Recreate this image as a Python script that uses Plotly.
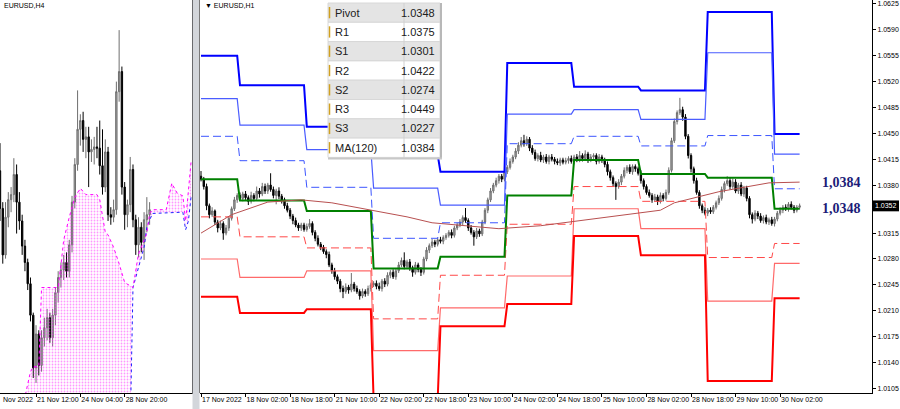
import plotly.graph_objects as go

W, H = 900, 409
PIP = 0.0001

# ---------------- H1 (right panel) data ----------------
h1_first_open = 1.0392
h1_close = [
    1.0388, 1.0378, 1.0352, 1.0340, 1.0345, 1.0330, 1.0322, 1.0328, 1.0315, 1.0322, 1.0335, 1.0348,
    1.0360, 1.0366, 1.0362, 1.0368, 1.0363, 1.0358, 1.0366, 1.0362, 1.0372, 1.0368, 1.0378, 1.0372,
    1.0380, 1.0374, 1.0366, 1.0372, 1.0365, 1.0360, 1.0352, 1.0346, 1.0338, 1.0332, 1.0326, 1.0322,
    1.0326, 1.0320, 1.0324, 1.0328, 1.0316, 1.0308, 1.0300, 1.0296, 1.0290, 1.0286, 1.0272, 1.0264,
    1.0256, 1.0250, 1.0240, 1.0236, 1.0242, 1.0238, 1.0246, 1.0240, 1.0236, 1.0230, 1.0236, 1.0233,
    1.0240, 1.0245, 1.0247, 1.0243, 1.0240, 1.0250, 1.0246, 1.0258, 1.0262, 1.0256, 1.0264, 1.0272,
    1.0278, 1.0270, 1.0276, 1.0268, 1.0262, 1.0272, 1.0266, 1.0262, 1.0280, 1.0292, 1.0298, 1.0303,
    1.0300, 1.0306, 1.0304, 1.0309, 1.0312, 1.0316, 1.0312, 1.0322, 1.0326, 1.0330, 1.0336, 1.0332,
    1.0322, 1.0316, 1.0310, 1.0318, 1.0314, 1.0330, 1.0346, 1.0360, 1.0372, 1.0380, 1.0386, 1.0392,
    1.0388, 1.0398, 1.0404, 1.0412, 1.0418, 1.0426, 1.0434, 1.0440, 1.0436, 1.0442, 1.0430, 1.0424,
    1.0416, 1.0420, 1.0414, 1.0418, 1.0412, 1.0418, 1.0415, 1.0412, 1.0410, 1.0414, 1.0411, 1.0413,
    1.0416, 1.0412, 1.0418, 1.0414, 1.0420, 1.0416, 1.0422, 1.0414, 1.0418, 1.0420, 1.0412, 1.0418,
    1.0414, 1.0408, 1.0398, 1.0390, 1.0382, 1.0378, 1.0384, 1.0392, 1.0400, 1.0404, 1.0398, 1.0405,
    1.0402, 1.0396, 1.0386, 1.0378, 1.0370, 1.0366, 1.0360, 1.0364, 1.0358, 1.0366, 1.0362, 1.0370,
    1.0400, 1.0440, 1.0466, 1.0478, 1.0482, 1.0472, 1.0446, 1.0420, 1.0402, 1.0386, 1.0370, 1.0352,
    1.0346, 1.0342, 1.0346, 1.0344, 1.0350, 1.0356, 1.0362, 1.0374, 1.0382, 1.0386, 1.0378, 1.0384,
    1.0372, 1.0380, 1.0368, 1.0376, 1.0362, 1.0340, 1.0334, 1.0342, 1.0338, 1.0332, 1.0336, 1.0330,
    1.0333, 1.0328, 1.0334, 1.0342, 1.0346, 1.0350, 1.0348, 1.0354, 1.0350, 1.0346, 1.0350, 1.0352,
]
h1_wick_up = [  # pips above body
    7, 3, 4, 3, 5, 2, 3, 4, 3, 4, 3, 3,   4, 3, 4, 3, 4, 3, 5, 3, 6, 4, 5, 4,
    3, 16, 4, 3, 5, 3, 3, 4, 3, 3, 4, 3,  3, 3, 4, 6, 3, 3, 4, 3, 3, 3, 4, 3,
    4, 3, 3, 4, 5, 3, 15, 3, 4, 3, 4, 3,  4, 3, 3, 4, 5, 3, 4, 4, 3, 4, 3, 4,
    4, 11, 3, 4, 3, 4, 3, 3, 3, 4, 3, 4,  3, 3, 4, 3, 3, 3, 4, 3, 3, 4, 3, 13,
    3, 4, 3, 4, 3, 3, 3, 3, 4, 3, 4, 3,   3, 3, 3, 4, 3, 4, 4, 5, 8, 4, 3, 4,
    4, 3, 5, 3, 4, 3, 4, 3, 4, 3, 3, 4,   3, 4, 3, 4, 6, 3, 5, 3, 4, 3, 3, 4,
    3, 3, 4, 3, 3, 3, 4, 3, 4, 3, 4, 3,   3, 3, 4, 3, 3, 4, 3, 4, 3, 4, 3, 4,
    4, 4, 4, 3, 16, 4, 4, 3, 3, 3, 4, 3,  3, 4, 3, 4, 3, 3, 4, 4, 3, 6, 4, 5,
    4, 3, 4, 3, 3, 3, 3, 4, 3, 4, 3, 4,   3, 4, 3, 3, 4, 3, 4, 3, 4, 3, 3, 3,
]
h1_wick_dn = [  # pips below body
    3, 4, 6, 5, 3, 4, 6, 3, 9, 3, 4, 3,   3, 4, 3, 4, 3, 5, 3, 4, 3, 5, 3, 4,
    4, 3, 4, 12, 4, 5, 4, 3, 4, 5, 3, 4,  4, 3, 3, 3, 4, 4, 3, 4, 3, 5, 3, 4,
    4, 4, 5, 9, 3, 5, 3, 4, 3, 5, 3, 4,   3, 4, 3, 4, 3, 4, 4, 3, 4, 3, 4, 3,
    3, 4, 3, 4, 6, 3, 4, 5, 3, 3, 4, 3,   4, 3, 3, 4, 3, 3, 4, 3, 3, 3, 4, 3,
    4, 3, 12, 3, 4, 3, 3, 4, 3, 3, 3, 4,  4, 3, 3, 3, 3, 3, 4, 3, 4, 3, 4, 3,
    3, 4, 3, 4, 3, 4, 3, 4, 3, 4, 3, 3,   4, 3, 4, 3, 3, 4, 3, 4, 3, 4, 4, 3,
    4, 4, 5, 4, 4, 18, 3, 4, 3, 4, 3, 4,  4, 3, 4, 4, 3, 3, 4, 3, 5, 3, 4, 3,
    3, 3, 3, 4, 3, 5, 4, 4, 5, 4, 3, 4,   4, 3, 4, 3, 3, 3, 3, 3, 4, 3, 4, 3,
    3, 4, 3, 4, 4, 5, 6, 3, 4, 3, 4, 3,   4, 3, 4, 3, 3, 4, 3, 4, 3, 4, 3, 3,
]

# daily pivot levels (one value per trading day)
day_names = ["17 Nov", "18 Nov", "21 Nov", "22 Nov", "23 Nov", "24 Nov", "25 Nov", "28 Nov", "29 Nov", "30 Nov"]
day_first_bar = [0, 14, 38, 62, 86, 110, 134, 158, 182, 206]
lvl_R3 = [1.0555, 1.0515, 1.0459, 1.0421, 1.0398, 1.0545, 1.0513, 1.0508, 1.0614, 1.0449]
lvl_R2 = [1.0497, 1.0461, 1.0428, 1.0376, 1.0353, 1.0476, 1.0482, 1.0469, 1.0559, 1.0422]
lvl_R1 = [1.0446, 1.0413, 1.0377, 1.0308, 1.0329, 1.0436, 1.0446, 1.0433, 1.0447, 1.0375]
lvl_P = [1.0388, 1.0359, 1.0345, 1.0267, 1.0283, 1.0366, 1.0414, 1.0395, 1.0390, 1.0348]
lvl_S1 = [1.0337, 1.0310, 1.0295, 1.0199, 1.0258, 1.0327, 1.0378, 1.0358, 1.0282, 1.0301]
lvl_S2 = [1.0280, 1.0255, 1.0264, 1.0156, 1.0214, 1.0257, 1.0348, 1.0321, 1.0223, 1.0274]
lvl_S3 = [1.0229, 1.0207, 1.0212, 1.0089, 1.0189, 1.0219, 1.0311, 1.0285, 1.0115, 1.0227]

# MA(120) read at a few bars
ma_bar = [0, 11, 24, 36, 47, 61, 74, 83, 95, 107, 122, 134, 158, 165, 170, 178, 186, 204, 215]
ma_val = [1.0315, 1.0340, 1.0357, 1.0360, 1.0356, 1.0346, 1.0337, 1.0329, 1.0325, 1.0321,
          1.0325, 1.0331, 1.0342, 1.0346, 1.0356, 1.0364, 1.0371, 1.0383, 1.0384]

h1_tick_bar = [0, 16, 32, 48, 64, 80, 96, 112, 128, 144, 160, 176, 192, 208]
h1_tick_text = ["17 Nov 2022", "18 Nov 02:00", "18 Nov 18:00", "21 Nov 10:00", "22 Nov 02:00",
                "22 Nov 18:00", "23 Nov 10:00", "24 Nov 02:00", "24 Nov 18:00", "25 Nov 10:00",
                "28 Nov 02:00", "28 Nov 18:00", "29 Nov 10:00", "30 Nov 02:00"]
price_ticks = [1.0105, 1.0140, 1.0175, 1.0210, 1.0245, 1.0280, 1.0315, 1.0380, 1.0415,
               1.0450, 1.0485, 1.0520, 1.0555, 1.0590, 1.0625]
price_tick_text = ["1.0105", "1.0140", "1.0175", "1.0210", "1.0245", "1.0280", "1.0315", "1.0380",
                   "1.0415", "1.0450", "1.0485", "1.0520", "1.0555", "1.0590", "1.0625"]
last_price = 1.0352

table_labels = ["Pivot", "R1", "S1", "R2", "S2", "R3", "S3", "MA(120)"]
table_values = ["1.0348", "1.0375", "1.0301", "1.0422", "1.0274", "1.0449", "1.0227", "1.0384"]
right_labels = [("1,0384", 1.0384), ("1,0348", 1.0348)]

# ---------------- H4 (left panel) data ----------------
h4_open = [1.0385, 1.0355, 1.0318, 1.0348, 1.0362, 1.0366, 1.0382, 1.0360, 1.0345, 1.0325, 1.0312,
           1.0295, 1.0270, 1.0228, 1.0255, 1.0230, 1.0252, 1.0260, 1.0268, 1.0252, 1.0270, 1.0288,
           1.0300, 1.0306, 1.0312, 1.0305, 1.0326, 1.0360, 1.0390, 1.0418, 1.0425, 1.0410, 1.0412,
           1.0400, 1.0402, 1.0404, 1.0403, 1.0389, 1.0372, 1.0400, 1.0350, 1.0348, 1.0354, 1.0448,
           1.0464, 1.0372, 1.0350, 1.0358, 1.0386, 1.0346, 1.0326, 1.0340, 1.0328, 1.0346, 1.0350]
h4_high = [1.0407, 1.0360, 1.0360, 1.0368, 1.0372, 1.0395, 1.0390, 1.0368, 1.0350, 1.0330, 1.0315,
           1.0300, 1.0272, 1.0262, 1.0258, 1.0258, 1.0268, 1.0275, 1.0272, 1.0275, 1.0292, 1.0305,
           1.0312, 1.0318, 1.0320, 1.0330, 1.0365, 1.0395, 1.0449, 1.0430, 1.0432, 1.0420, 1.0420,
           1.0410, 1.0412, 1.0420, 1.0425, 1.0418, 1.0410, 1.0404, 1.0356, 1.0362, 1.0456, 1.0497,
           1.0468, 1.0376, 1.0362, 1.0396, 1.0390, 1.0350, 1.0348, 1.0344, 1.0352, 1.0364, 1.0360]
h4_low = [1.0345, 1.0311, 1.0315, 1.0340, 1.0352, 1.0360, 1.0335, 1.0338, 1.0318, 1.0305, 1.0290,
          1.0265, 1.0220, 1.0216, 1.0222, 1.0225, 1.0245, 1.0250, 1.0248, 1.0245, 1.0262, 1.0280,
          1.0292, 1.0298, 1.0300, 1.0300, 1.0320, 1.0355, 1.0385, 1.0405, 1.0400, 1.0395, 1.0372,
          1.0392, 1.0390, 1.0395, 1.0382, 1.0366, 1.0368, 1.0345, 1.0342, 1.0344, 1.0350, 1.0440,
          1.0366, 1.0338, 1.0340, 1.0352, 1.0340, 1.0318, 1.0316, 1.0320, 1.0314, 1.0336, 1.0342]
h4_close = [1.0355, 1.0318, 1.0348, 1.0362, 1.0366, 1.0382, 1.0360, 1.0345, 1.0325, 1.0312, 1.0295,
            1.0270, 1.0228, 1.0255, 1.0230, 1.0252, 1.0260, 1.0268, 1.0252, 1.0270, 1.0288, 1.0300,
            1.0306, 1.0312, 1.0305, 1.0326, 1.0360, 1.0390, 1.0418, 1.0425, 1.0410, 1.0412, 1.0400,
            1.0402, 1.0404, 1.0403, 1.0389, 1.0372, 1.0400, 1.0350, 1.0348, 1.0354, 1.0448, 1.0464,
            1.0372, 1.0350, 1.0358, 1.0386, 1.0346, 1.0326, 1.0340, 1.0328, 1.0346, 1.0350, 1.0354]

span_a_bar = [0, 9, 10, 11, 12, 14, 15, 21, 22, 23, 25, 27, 29, 31, 35, 36, 38, 39, 41, 43, 45, 48,
              50, 53, 54, 55, 60, 61, 62, 64, 66, 67, 69]
span_a_val = [1.0195, 1.0205, 1.0215, 1.0225, 1.0229, 1.0229, 1.0292, 1.0292, 1.0310, 1.0330, 1.0348,
              1.0364, 1.0371, 1.0366, 1.0366, 1.0362, 1.0336, 1.0334, 1.0324, 1.0311, 1.0296, 1.0292,
              1.0319, 1.0335, 1.0351, 1.0354, 1.0354, 1.0364, 1.0375, 1.0367, 1.0365, 1.0345, 1.0393]
span_b_bar = [0, 47, 48, 50, 52, 53, 55, 66, 67, 68, 69]
span_b_val = [1.0180, 1.0180, 1.0292, 1.0308, 1.0324, 1.0340, 1.0351, 1.0352, 1.0338, 1.0345, 1.0365]

h4_tick_bar = [13, 29, 45]
h4_tick_text = ["21 Nov 12:00", "24 Nov 04:00", "28 Nov 20:00"]

# ---------------- derived ----------------
h1_open = [h1_first_open] + h1_close[:-1]
h1_high = [max(o, c) + u * PIP for o, c, u in zip(h1_open, h1_close, h1_wick_up)]
h1_low = [min(o, c) - d * PIP for o, c, d in zip(h1_open, h1_close, h1_wick_dn)]
h1_bar = list(range(len(h1_close)))
h4_bar = list(range(len(h4_close)))
last_bar = h1_bar[-1]


def px(x):
    return x / W


def py(y):
    return 1 - y / H


FONT = "Liberation Sans, Arial, sans-serif"
fig = go.Figure()

# ---- left panel: ichimoku cloud + H4 candles ----
fig.add_trace(go.Scatter(x=span_b_bar, y=span_b_val, mode="lines", xaxis="x", yaxis="y",
                         line=dict(color="#2020ff", width=1, dash="dot"), hoverinfo="skip"))
fig.add_trace(go.Scatter(x=span_a_bar, y=span_a_val, mode="lines", xaxis="x", yaxis="y",
                         line=dict(color="#ff00ff", width=1, dash="dot"), fill="tonexty",
                         fillcolor="rgba(0,0,0,0)",
                         fillpattern=dict(shape=".", fgcolor="#ff30ff", bgcolor="rgba(0,0,0,0)",
                                          size=3, solidity=0.28),
                         hoverinfo="skip"))
fig.add_trace(go.Candlestick(x=h4_bar, open=h4_open, high=h4_high, low=h4_low, close=h4_close,
                             xaxis="x", yaxis="y", whiskerwidth=0,
                             increasing=dict(line=dict(color="#6e6e6e", width=1), fillcolor="#a8a8a8"),
                             decreasing=dict(line=dict(color="#000000", width=1), fillcolor="#000000")))

# ---- right panel: H1 candles ----
fig.add_trace(go.Candlestick(x=h1_bar, open=h1_open, high=h1_high, low=h1_low, close=h1_close,
                             xaxis="x2", yaxis="y2", whiskerwidth=0,
                             increasing=dict(line=dict(color="#6e6e6e", width=1), fillcolor="#a8a8a8"),
                             decreasing=dict(line=dict(color="#000000", width=1), fillcolor="#000000")))


def day_steps(levels):
    xs, ys = [], []
    for j, v in enumerate(levels):
        start = day_first_bar[j]
        end = day_first_bar[j + 1] - 1 if j + 1 < len(day_first_bar) else last_bar
        xs += [start, end]
        ys += [v, v]
    return xs, ys


level_styles = [
    (lvl_R3, dict(color="#0000ff", width=2)),
    (lvl_R2, dict(color="#4a5cff", width=1.2)),
    (lvl_R1, dict(color="#3c55ff", width=1, dash="8px,4px")),
    (lvl_S1, dict(color="#ff4848", width=1, dash="8px,4px")),
    (lvl_S2, dict(color="#ff6a6a", width=1.2)),
    (lvl_S3, dict(color="#ff0000", width=2)),
    (lvl_P, dict(color="#008000", width=2)),
]
for lv, st in level_styles:
    xs, ys = day_steps(lv)
    fig.add_trace(go.Scatter(x=xs, y=ys, mode="lines", xaxis="x2", yaxis="y2", line=st,
                             hoverinfo="skip"))

fig.add_trace(go.Scatter(x=ma_bar, y=ma_val, mode="lines", xaxis="x2", yaxis="y2",
                         line=dict(color="#b85050", width=1), hoverinfo="skip"))

# ---- shapes ----
shapes = []
# divider between panels
shapes.append(dict(type="rect", xref="paper", yref="paper", x0=px(192.5), x1=px(199.5), y0=0, y1=1,
                   fillcolor="#d3d6db", line=dict(width=0), layer="above"))
shapes.append(dict(type="line", xref="paper", yref="paper", x0=px(199.5), x1=px(199.5), y0=py(393), y1=1,
                   line=dict(color="#7a7a7a", width=1), layer="above"))
# table
row_h = 19.3
tx0, tx1, ty0 = 328, 440, 3
for r in range(len(table_labels)):
    y0 = ty0 + r * row_h
    y1 = y0 + row_h
    shapes.append(dict(type="rect", xref="paper", yref="paper", x0=px(tx0), x1=px(tx1),
                       y0=py(y1), y1=py(y0),
                       fillcolor="#e4e4e4" if r % 2 == 0 else "#ffffff",
                       line=dict(color="#d8d8d8", width=1), layer="above"))
    shapes.append(dict(type="line", xref="paper", yref="paper", x0=px(329.5), x1=px(329.5),
                       y0=py(y1 - 4), y1=py(y0 + 4), line=dict(color="#d0a020", width=1.5),
                       layer="above"))
shapes.append(dict(type="line", xref="paper", yref="paper", x0=px(404), x1=px(404),
                   y0=py(ty0 + row_h * len(table_labels)), y1=py(ty0),
                   line=dict(color="#d0d0d0", width=1), layer="above"))
shapes.append(dict(type="line", xref="paper", yref="paper", x0=px(441), x1=px(441),
                   y0=py(ty0 + row_h * len(table_labels) + 1), y1=py(ty0),
                   line=dict(color="#b8b8b8", width=2), layer="above"))
shapes.append(dict(type="line", xref="paper", yref="paper", x0=px(tx0), x1=px(442),
                   y0=py(ty0 + row_h * len(table_labels) + 1), y1=py(ty0 + row_h * len(table_labels) + 1),
                   line=dict(color="#c8c8c8", width=2), layer="above"))
# last-price box on the axis
shapes.append(dict(type="rect", xref="paper", yref="y2", x0=px(873), x1=px(899),
                   y0=last_price - 0.00075, y1=last_price + 0.00072,
                   fillcolor="#000000", line=dict(width=0), layer="above"))

# ---- annotations ----
ann = []
for r, (lab, val) in enumerate(zip(table_labels, table_values)):
    yc = ty0 + (r + 0.5) * row_h
    ann.append(dict(xref="paper", yref="paper", x=px(333), y=py(yc), text=lab, showarrow=False,
                    xanchor="left", yanchor="middle", font=dict(family=FONT, size=11, color="#202020")))
    ann.append(dict(xref="paper", yref="paper", x=px(437), y=py(yc), text=val, showarrow=False,
                    xanchor="right", yanchor="middle", font=dict(family=FONT, size=11, color="#202020")))
for txt, val in right_labels:
    ann.append(dict(xref="paper", yref="y2", x=px(820), y=val, text="<b>" + txt + "</b>", showarrow=False,
                    xanchor="left", yanchor="middle",
                    font=dict(family="Liberation Serif, Times New Roman, serif", size=14, color="#1c1c78")))
ann.append(dict(xref="paper", yref="y2", x=px(886), y=last_price, text=f"{last_price:.4f}", showarrow=False,
                xanchor="center", yanchor="middle", font=dict(family=FONT, size=7, color="#ffffff")))
ann.append(dict(xref="paper", yref="paper", x=px(203), y=py(6), text="\u25bc EURUSD,H1", showarrow=False,
                xanchor="left", yanchor="middle", font=dict(family=FONT, size=7, color="#000000")))
ann.append(dict(xref="paper", yref="paper", x=px(2), y=py(6), text="EURUSD,H4", showarrow=False,
                xanchor="left", yanchor="middle", font=dict(family=FONT, size=7, color="#000000")))
ann.append(dict(xref="paper", yref="paper", x=px(1), y=py(399), text="Nov 2022", showarrow=False,
                xanchor="left", yanchor="middle", font=dict(family=FONT, size=7, color="#000000")))

y_dom = [1 - 393 / H, 1]
fig.update_layout(
    width=W, height=H, margin=dict(l=0, r=0, t=0, b=0),
    paper_bgcolor="white", plot_bgcolor="white", showlegend=False,
    font=dict(family=FONT, size=7, color="#000000"),
    xaxis=dict(domain=[0, px(192)], range=[0, 69.3], anchor="y", showgrid=False, zeroline=False,
               rangeslider=dict(visible=False), showline=True, linecolor="#000000", linewidth=1,
               ticks="outside", ticklen=3, tickcolor="#000000", tickvals=h4_tick_bar,
               ticktext=h4_tick_text, ticklabelposition="outside right", tickangle=0,
               tickfont=dict(family=FONT, size=7)),
    yaxis=dict(domain=y_dom, range=[1.0208, 1.0521], anchor="x", side="right", showgrid=False,
               zeroline=False, showline=True, linecolor="#000000", linewidth=1, showticklabels=False,
               ticks=""),
    xaxis2=dict(domain=[px(200), px(872)], range=[-0.36, 241.0], anchor="y2", showgrid=False,
                zeroline=False, rangeslider=dict(visible=False), showline=True, linecolor="#000000",
                linewidth=1, ticks="outside", ticklen=3, tickcolor="#000000", tickvals=h1_tick_bar,
                ticktext=h1_tick_text, ticklabelposition="outside right", tickangle=0,
                tickfont=dict(family=FONT, size=7)),
    yaxis2=dict(domain=y_dom, range=[1.00987, 1.06304], anchor="x2", side="right", showgrid=False,
                zeroline=False, showline=True, linecolor="#000000", linewidth=1, ticks="outside",
                ticklen=3, tickcolor="#000000", tickvals=price_ticks, ticktext=price_tick_text,
                tickfont=dict(family=FONT, size=7)),
    shapes=shapes, annotations=ann,
)

fig.write_html("out.html", config={"displayModeBar": False},
               post_script="document.body.style.margin='0';document.body.style.overflow='hidden';")
